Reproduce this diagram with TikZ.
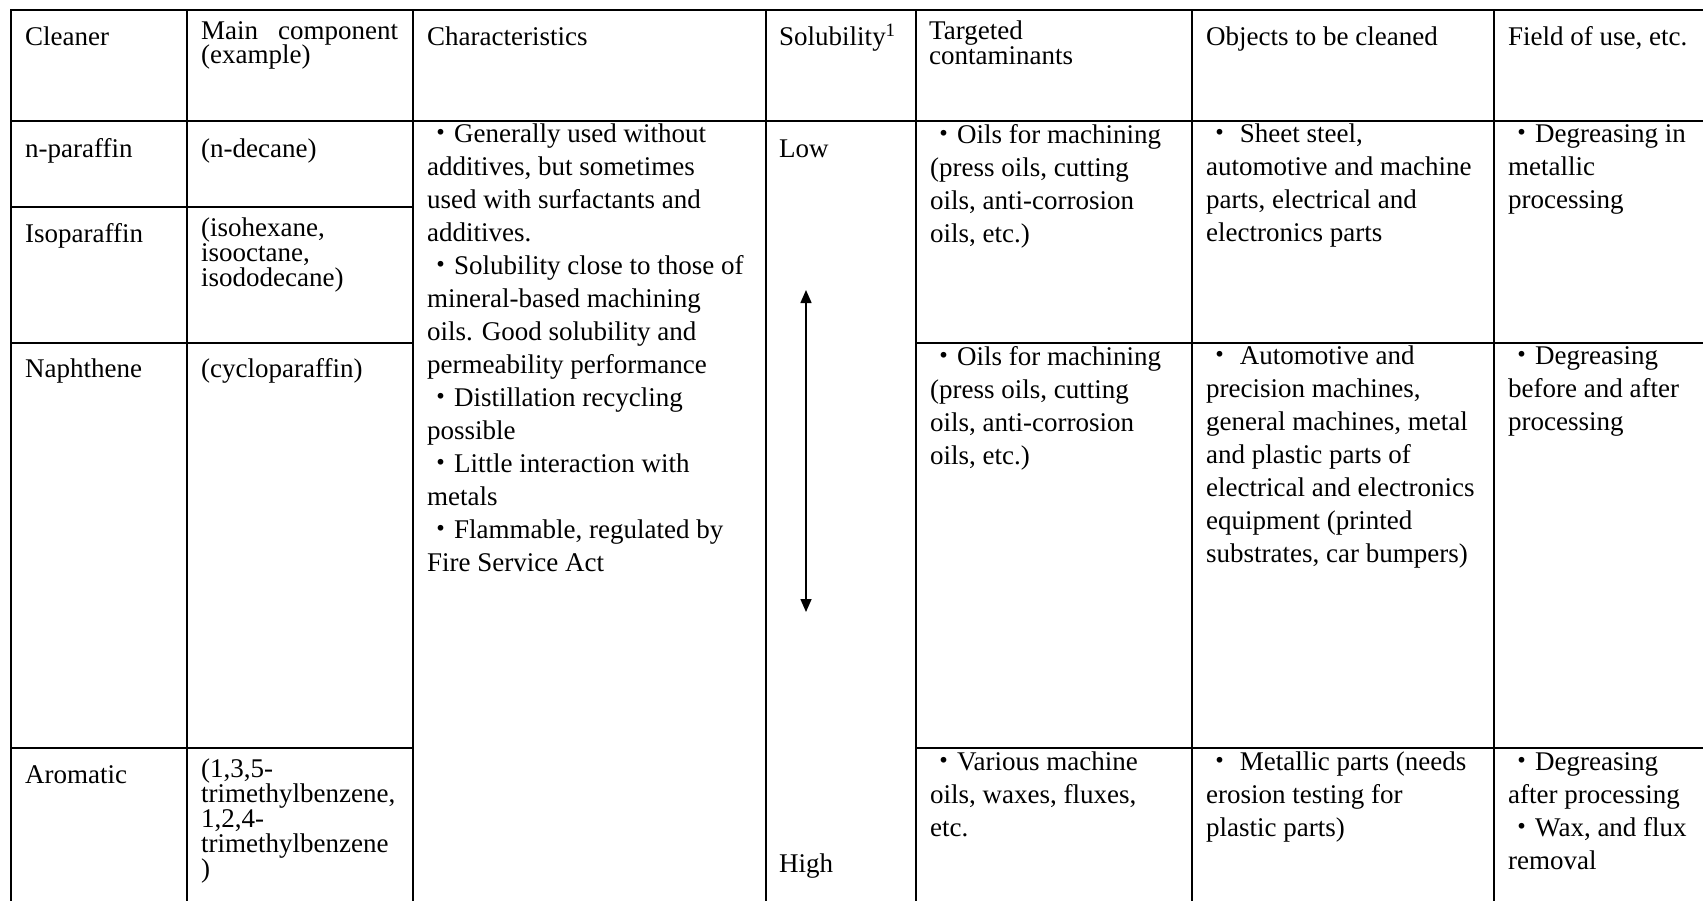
\documentclass[tikz,border=0pt]{standalone}
\usepackage{fontspec}
\setmainfont{Liberation Serif}
\newfontfamily\cjkfont{Noto Sans CJK JP}
\usetikzlibrary{arrows.meta}
\newcommand{\bul}{{\cjkfont ・}}

\tikzset{
  cell/.style={anchor=north west, inner sep=0pt, align=left,
               font={\fontsize{27}{33}\selectfont},
               execute at begin node={\rule{0pt}{24pt}}},
  celltight/.style={cell, font={\fontsize{27}{25}\selectfont\lineskiplimit=-30pt}},
  headtight/.style={cell, font={\fontsize{27}{24.5}\selectfont\lineskiplimit=-30pt}},
  tabrule/.style={line width=2pt, line cap=rect},
}

\begin{document}
\begin{tikzpicture}[x=1pt, y=-1pt]
  \useasboundingbox (0,0) rectangle (1703,900);

  %% Table rules
  \draw[tabrule] (11,10) -- (1703,10);
  \draw[tabrule] (11,121) -- (1703,121);
  \draw[tabrule] (11,207) -- (413,207);
  \draw[tabrule] (11,343) -- (413,343) (916,343) -- (1703,343);
  \draw[tabrule] (11,748) -- (413,748) (916,748) -- (1703,748);
  \foreach \x in {11,187,413,766,916,1192,1494}
    \draw[tabrule] (\x,10) -- (\x,900);

  %% Header row (first baseline at y=45, nodes hang 24pt above it)
  \node[cell] (hCleaner) at (25,21) {Cleaner};
  \node[headtight] (hMain) at (201,21)
    {\makebox[197pt][s]{Main component}\\(example)};
  \node[cell] (hChar) at (427,21) {Characteristics};
  \node[cell] (hSol) at (779,21) {Solubility\textsuperscript{1}};
  \node[celltight] (hTarget) at (929,21) {Targeted\\contaminants};
  \node[cell] (hObj) at (1206,21) {Objects to be cleaned};
  \node[cell] (hField) at (1508,21) {Field of use, etc.};

  %% Cleaner and main component
  \node[cell] (nPar) at (25,133) {n-paraffin};
  \node[cell] (nParMain) at (201,133) {(n-decane)};
  \node[cell] (isoPar) at (25,218) {Isoparaffin};
  \node[celltight] (isoParMain) at (201,218)
    {(isohexane,\\isooctane,\\isododecane)};
  \node[cell] (naph) at (25,353) {Naphthene};
  \node[cell] (naphMain) at (201,353) {(cycloparaffin)};
  \node[cell] (arom) at (25,759) {Aromatic};
  \node[celltight] (aromMain) at (201,759)
    {(1,3,5-\\trimethylbenzene,\\1,2,4-\\trimethylbenzene\\)};

  %% Characteristics
  \node[cell] (charText) at (427,124)
    {\bul Generally used without\\
     additives, but sometimes\\
     used with surfactants and\\
     additives.\\
     \bul Solubility close to those of\\
     mineral-based machining\\
     oils. Good solubility and\\
     permeability performance\\
     \bul Distillation recycling\\
     possible\\
     \bul Little interaction with\\
     metals\\
     \bul Flammable, regulated by\\
     Fire Service Act};

  %% Solubility scale
  \node[cell] (solLow) at (779,133) {Low};
  \node[cell] (solHigh) at (779,848) {High};
  \coordinate (solTop) at (806,290);
  \coordinate (solBot) at (806,612);
  \draw[line width=1.5pt, {Triangle[length=13pt, width=11pt]}-{Triangle[length=13pt, width=11pt]}]
    (solTop) -- (solBot);

  %% Targeted contaminants
  \node[cell] (tgtA) at (930,124)
    {\bul Oils for machining\\(press oils, cutting\\oils, anti-corrosion\\oils, etc.)};
  \node[cell] (tgtB) at (930,346)
    {\bul Oils for machining\\(press oils, cutting\\oils, anti-corrosion\\oils, etc.)};
  \node[cell] (tgtC) at (930,752)
    {\bul Various machine\\oils, waxes, fluxes,\\etc.};

  %% Objects to be cleaned
  \node[cell] (objA) at (1206,124)
    {\bul{} Sheet steel,\\automotive and machine\\parts, electrical and\\electronics parts};
  \node[cell] (objB) at (1206,346)
    {\bul{} Automotive and\\precision machines,\\general machines, metal\\and plastic parts of\\electrical and electronics\\equipment (printed\\substrates, car bumpers)};
  \node[cell] (objC) at (1206,752)
    {\bul{} Metallic parts (needs\\erosion testing for\\plastic parts)};

  %% Field of use
  \node[cell] (useA) at (1508,124)
    {\bul Degreasing in\\metallic\\processing};
  \node[cell] (useB) at (1508,346)
    {\bul Degreasing\\before and after\\processing};
  \node[cell] (useC) at (1508,752)
    {\bul Degreasing\\after processing\\\bul Wax, and flux\\removal};
\end{tikzpicture}
\end{document}
